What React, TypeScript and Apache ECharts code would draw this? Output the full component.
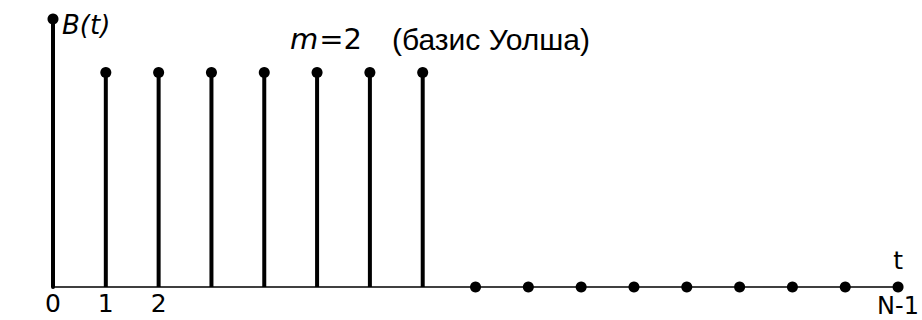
import React, { useEffect, useRef } from "react";
import * as echarts from "echarts";

// Discrete samples t = 1 .. N-1 and the basis function values B(t)
const times = [1, 2, 3, 4, 5, 6, 7, 8, 9, 10, 11, 12, 13, 14, 15, 16];
const values = [1, 1, 1, 1, 1, 1, 1, 0, 0, 0, 0, 0, 0, 0, 0, 0];

// Labelled positions on the t axis
const tickPositions = [0, 1, 2, 16];
const tickTexts = ["0", "1", "2", "N-1"];

export default function App() {
  const ref = useRef<HTMLDivElement>(null);

  useEffect(() => {
    if (!ref.current) return;
    const chart = echarts.init(ref.current, undefined, { renderer: "svg" });

    const data = times.map((t, i) => [t, values[i]]);

    chart.setOption({
      animation: false,
      backgroundColor: "#fff",
      title: {
        left: 285,
        top: 19,
        text: "{m|m}{eq|=2}{d|(базис Уолша)}",
        textStyle: {
          fontWeight: "normal",
          rich: {
            m: { fontFamily: "DejaVu Sans", fontStyle: "italic", fontWeight: "normal", fontSize: 29, color: "#000" },
            eq: { fontFamily: "DejaVu Sans", fontWeight: "normal", fontSize: 29, color: "#000", padding: [0, 30, 0, 1] },
            d: { fontFamily: "Liberation Sans", fontWeight: "normal", fontSize: 30, color: "#000" },
          },
        },
      },
      grid: { left: 53, right: 22, top: 19, bottom: 33 },
      xAxis: {
        type: "value",
        min: 0,
        max: 16,
        interval: 1,
        name: "t",
        nameLocation: "end",
        nameGap: 0,
        nameTextStyle: {
          fontFamily: "DejaVu Sans",
          fontSize: 25,
          color: "#000",
          align: "center",
          verticalAlign: "bottom",
          padding: [0, 0, 14, 0],
        },
        axisLine: { show: true, onZero: false, lineStyle: { color: "#000", width: 1.5 } },
        axisTick: { show: false },
        splitLine: { show: false },
        axisLabel: {
          margin: 4,
          fontFamily: "DejaVu Sans",
          fontSize: 25,
          color: "#000",
          formatter: (v: number) => {
            const k = tickPositions.indexOf(v);
            if (k < 0) return "";
            return v === 16 ? "{n|" + tickTexts[k] + "}" : tickTexts[k];
          },
          rich: {
            n: { fontFamily: "DejaVu Sans", fontSize: 24, color: "#000", padding: [3, 0, 0, 0] },
          },
        },
      },
      yAxis: {
        type: "value",
        min: 0,
        max: 1.25,
        name: "B(t)",
        nameLocation: "end",
        nameGap: -6,
        nameTextStyle: {
          fontFamily: "DejaVu Sans",
          fontStyle: "italic",
          fontSize: 26,
          color: "#000",
          align: "left",
          verticalAlign: "middle",
          padding: [0, 0, 0, 9],
        },
        axisLine: {
          show: true,
          symbol: ["none", "circle"],
          symbolSize: [11, 11],
          lineStyle: { color: "#000", width: 4 },
        },
        axisTick: { show: false },
        axisLabel: { show: false },
        splitLine: { show: false },
      },
      series: [
        {
          type: "custom",
          clip: false,
          data,
          renderItem: (params: any, api: any) => {
            const t = api.value(0);
            const v = api.value(1);
            const base = api.coord([t, 0]);
            const top = api.coord([t, v]);
            const children: any[] = [];
            if (v > 0) {
              children.push({
                type: "line",
                shape: { x1: base[0], y1: base[1], x2: top[0], y2: top[1] },
                style: { stroke: "#000", lineWidth: 4 },
              });
            }
            children.push({
              type: "circle",
              shape: { cx: top[0], cy: top[1], r: 5.5 },
              style: { fill: "#000" },
            });
            return { type: "group", children };
          },
        },
      ],
    });

    return () => chart.dispose();
  }, []);

  return <div ref={ref} style={{ width: 922, height: 320, position: "absolute", left: 0, top: 0 }} />;
}
